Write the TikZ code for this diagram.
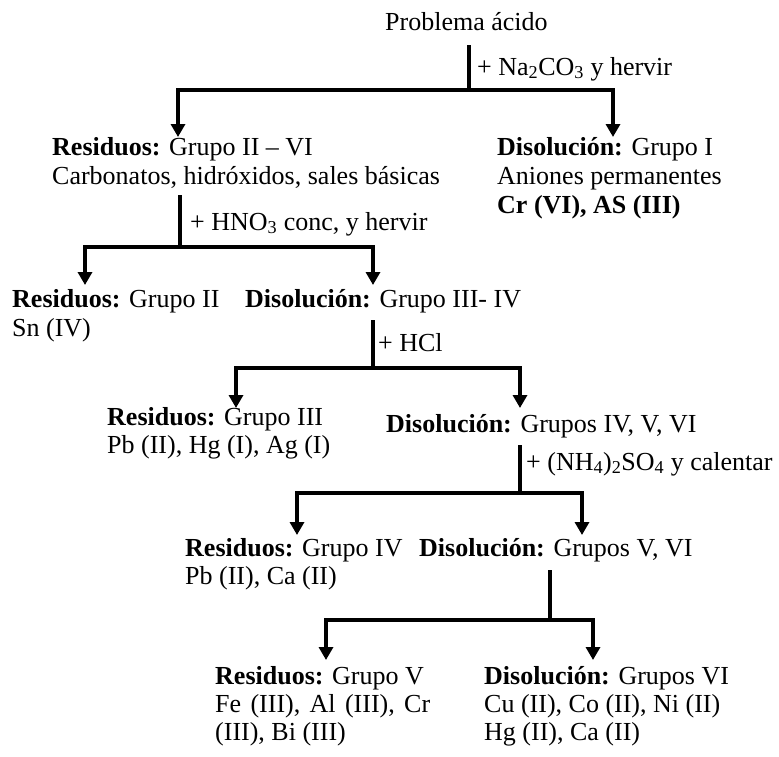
\documentclass[tikz,border=0pt]{standalone}
\usepackage{fontspec}
\setmainfont{Liberation Serif}
\usetikzlibrary{arrows.meta}
\tikzset{
  txt/.style={anchor=base west, inner sep=0pt, font=\fontsize{26}{29}\selectfont},
  link/.style={line width=4pt},
  arr/.style={line width=4pt, -{Triangle[width=14pt,length=13pt]}},
}
\begin{document}
\begin{tikzpicture}[x=1pt,y=-1pt]
\useasboundingbox (0,0) rectangle (779,756);
% level 0
\node[txt] (p0) at (385,30) {Problema ácido};
\coordinate (a0) at (469,45);
\coordinate (j0) at (469,90);
\coordinate (t0l) at (178,137);
\coordinate (t0r) at (613,137);
\draw[link] (a0) -- (j0);
\draw[arr] (j0) -| (t0l);
\draw[arr] (j0) -| (t0r);
\node[txt] (l0) at (477,75) {+ Na\textsubscript{2}CO\textsubscript{3} y hervir};
% level 1
\node[txt] (r1a) at (52,155) {\textbf{Residuos:} Grupo II – VI};
\node[txt] (r1b) at (52,184) {Carbonatos, hidróxidos, sales básicas};
\node[txt] (d1a) at (497,155) {\textbf{Disolución:} Grupo I};
\node[txt] (d1b) at (497,184) {Aniones permanentes};
\node[txt] (d1c) at (497,213) {\textbf{Cr (VI), AS (III)}};
\coordinate (a1) at (180,195);
\coordinate (j1) at (180,247);
\coordinate (t1l) at (85,285);
\coordinate (t1r) at (373,285);
\draw[link] (a1) -- (j1);
\draw[arr] (j1) -| (t1l);
\draw[arr] (j1) -| (t1r);
\node[txt] (l1) at (190,230) {+ HNO\textsubscript{3} conc, y hervir};
% level 2
\node[txt] (r2a) at (12,307) {\textbf{Residuos:} Grupo II};
\node[txt] (r2b) at (12,336) {Sn (IV)};
\node[txt] (d2a) at (245,307) {\textbf{Disolución:} Grupo III- IV};
\coordinate (a2) at (373,320);
\coordinate (j2) at (373,368);
\coordinate (t2l) at (236,408);
\coordinate (t2r) at (520,408);
\draw[link] (a2) -- (j2);
\draw[arr] (j2) -| (t2l);
\draw[arr] (j2) -| (t2r);
\node[txt] (l2) at (378,351) {+ HCl};
% level 3
\node[txt] (r3a) at (107,425) {\textbf{Residuos:} Grupo III};
\node[txt] (r3b) at (107,453) {Pb (II), Hg (I), Ag (I)};
\node[txt] (d3a) at (386,432) {\textbf{Disolución:} Grupos IV, V, VI};
\coordinate (a3) at (520,445);
\coordinate (j3) at (520,493);
\coordinate (t3l) at (297,535);
\coordinate (t3r) at (582,535);
\draw[link] (a3) -- (j3);
\draw[arr] (j3) -| (t3l);
\draw[arr] (j3) -| (t3r);
\node[txt] (l3) at (526,470) {+ (NH\textsubscript{4})\textsubscript{2}SO\textsubscript{4} y calentar};
% level 4
\node[txt] (r4a) at (185,556) {\textbf{Residuos:} Grupo IV};
\node[txt] (r4b) at (185,584) {Pb (II), Ca (II)};
\node[txt] (d4a) at (419,556) {\textbf{Disolución:} Grupos V, VI};
\coordinate (a4) at (550,570);
\coordinate (j4) at (550,620);
\coordinate (t4l) at (326,660);
\coordinate (t4r) at (593,660);
\draw[link] (a4) -- (j4);
\draw[arr] (j4) -| (t4l);
\draw[arr] (j4) -| (t4r);
% level 5
\node[txt] (r5a) at (215,684) {\textbf{Residuos:} Grupo V};
\node[txt] (r5b) at (215,712) {\makebox[215pt][s]{Fe (III), Al (III), Cr}};
\node[txt] (r5c) at (215,740) {(III), Bi (III)};
\node[txt] (d5a) at (484,684) {\textbf{Disolución:} Grupos VI};
\node[txt] (d5b) at (484,712) {Cu (II), Co (II), Ni (II)};
\node[txt] (d5c) at (484,740) {Hg (II), Ca (II)};
\end{tikzpicture}
\end{document}
